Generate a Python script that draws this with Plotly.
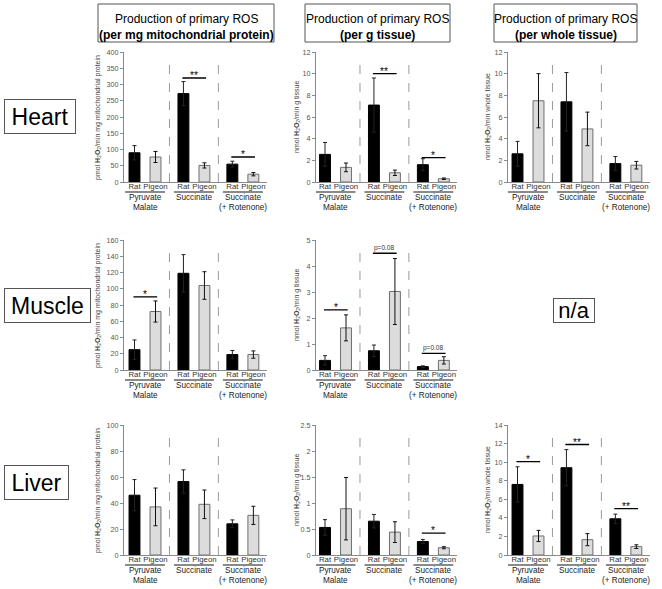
import plotly.graph_objects as go

# ---------------- data ----------------
groups = ["Pyruvate<br>Malate", "Succinate", "Succinate<br>(+ Rotenone)"]
species = ["Rat", "Pigeon"]

# Heart
heart_protein_rat = [90, 272, 55]
heart_protein_rat_err = [22, 37, 9]
heart_protein_pigeon = [77, 51, 24]
heart_protein_pigeon_err = [17, 8, 5]

heart_gtissue_rat = [2.55, 7.1, 1.6]
heart_gtissue_rat_err = [1.1, 2.5, 0.55]
heart_gtissue_pigeon = [1.35, 0.85, 0.3]
heart_gtissue_pigeon_err = [0.4, 0.25, 0.07]

heart_whole_rat = [2.6, 7.4, 1.7]
heart_whole_rat_err = [1.15, 2.7, 0.65]
heart_whole_pigeon = [7.5, 4.9, 1.55]
heart_whole_pigeon_err = [2.5, 1.55, 0.35]

# Muscle
muscle_protein_rat = [25, 119, 19]
muscle_protein_rat_err = [12, 23, 5]
muscle_protein_pigeon = [72, 104, 19]
muscle_protein_pigeon_err = [13, 17, 4.5]

muscle_gtissue_rat = [0.37, 0.74, 0.13]
muscle_gtissue_rat_err = [0.18, 0.22, 0.03]
muscle_gtissue_pigeon = [1.62, 3.02, 0.37]
muscle_gtissue_pigeon_err = [0.5, 1.27, 0.14]

# Liver
liver_protein_rat = [46, 56.5, 24]
liver_protein_rat_err = [12, 9, 3]
liver_protein_pigeon = [37, 39, 30.5]
liver_protein_pigeon_err = [14.5, 11, 7]

liver_gtissue_rat = [0.53, 0.65, 0.26]
liver_gtissue_rat_err = [0.15, 0.13, 0.04]
liver_gtissue_pigeon = [0.89, 0.44, 0.14]
liver_gtissue_pigeon_err = [0.6, 0.2, 0.02]

liver_whole_rat = [7.6, 9.4, 3.9]
liver_whole_rat_err = [1.9, 1.95, 0.5]
liver_whole_pigeon = [2.05, 1.65, 0.9]
liver_whole_pigeon_err = [0.6, 0.65, 0.2]

# significance marks: (group index, level, label)
heart_protein_sig = [(1, 320, "**"), (2, 77, "*")]
heart_gtissue_sig = [(1, 10.0, "**"), (2, 2.25, "*")]
heart_whole_sig = []
muscle_protein_sig = [(0, 90, "*")]
muscle_gtissue_sig = [(0, 2.31, "*"), (1, 4.49, "p=0.08"), (2, 0.64, "p=0.08")]
liver_protein_sig = []
liver_gtissue_sig = [(2, 0.42, "*")]
liver_whole_sig = [(0, 10.05, "*"), (1, 11.9, "**"), (2, 5.0, "**")]

header_line1 = ["Production of primary ROS"] * 3
header_line2 = ["(per mg mitochondrial protein)", "(per g tissue)", "(per whole tissue)"]
row_labels = ["Heart", "Muscle", "Liver"]

H2O2 = "<b>H</b><sub>2</sub><b>O</b><sub>2</sub>"
ytitles = ["pmol " + H2O2 + "/min mg mitochondrial protein",
           "nmol " + H2O2 + "/min g tissue",
           "nmol " + H2O2 + "/min whole tissue"]

panels = [
    dict(row=0, col=0, rat=heart_protein_rat, rat_err=heart_protein_rat_err,
         pig=heart_protein_pigeon, pig_err=heart_protein_pigeon_err, ymax=400, dtick=50, sig=heart_protein_sig),
    dict(row=0, col=1, rat=heart_gtissue_rat, rat_err=heart_gtissue_rat_err,
         pig=heart_gtissue_pigeon, pig_err=heart_gtissue_pigeon_err, ymax=12, dtick=2, sig=heart_gtissue_sig),
    dict(row=0, col=2, rat=heart_whole_rat, rat_err=heart_whole_rat_err,
         pig=heart_whole_pigeon, pig_err=heart_whole_pigeon_err, ymax=12, dtick=2, sig=heart_whole_sig),
    dict(row=1, col=0, rat=muscle_protein_rat, rat_err=muscle_protein_rat_err,
         pig=muscle_protein_pigeon, pig_err=muscle_protein_pigeon_err, ymax=160, dtick=20, sig=muscle_protein_sig),
    dict(row=1, col=1, rat=muscle_gtissue_rat, rat_err=muscle_gtissue_rat_err,
         pig=muscle_gtissue_pigeon, pig_err=muscle_gtissue_pigeon_err, ymax=5, dtick=1, sig=muscle_gtissue_sig),
    dict(row=2, col=0, rat=liver_protein_rat, rat_err=liver_protein_rat_err,
         pig=liver_protein_pigeon, pig_err=liver_protein_pigeon_err, ymax=100, dtick=20, sig=liver_protein_sig),
    dict(row=2, col=1, rat=liver_gtissue_rat, rat_err=liver_gtissue_rat_err,
         pig=liver_gtissue_pigeon, pig_err=liver_gtissue_pigeon_err, ymax=2.5, dtick=0.5, sig=liver_gtissue_sig),
    dict(row=2, col=2, rat=liver_whole_rat, rat_err=liver_whole_rat_err,
         pig=liver_whole_pigeon, pig_err=liver_whole_pigeon_err, ymax=14, dtick=2, sig=liver_whole_sig),
]

# ---------------- layout geometry (pixels) ----------------
W, H = 662, 589
FONT = "Liberation Sans, Arial, sans-serif"
GSTEP = 2.33          # group spacing in bar units
UNIT = 21.0           # px per bar unit
col_axis_left = [124, 316, 508]      # px of y axis
col_first_offset = [10.5, 9.0, 9.5]  # px from axis to first bar centre
col_xmax = 6.3
row_top = [52, 240, 425]
row_h = 130
col_ytitle_x = [98, 297, 488]

def px2x(px):
    return px / W

def px2y(py):
    return 1 - py / H

fig = go.Figure()
layout = dict(
    template="none",
    width=W, height=H, margin=dict(l=0, r=0, t=0, b=0, pad=0),
    paper_bgcolor="white", plot_bgcolor="white",
    showlegend=False, barmode="overlay",
    font=dict(family=FONT, color="#333333"),
)
shapes = []
annotations = []

rat_x = [g * GSTEP for g in range(3)]
pig_x = [g * GSTEP + 1 for g in range(3)]
tickvals = []
ticktext = []
for g in range(3):
    tickvals += [rat_x[g], pig_x[g]]
    ticktext += species

for i, p in enumerate(panels):
    n = i + 1
    sfx = "" if n == 1 else str(n)
    xa, ya = "x" + sfx, "y" + sfx
    c, r = p["col"], p["row"]
    xmin = -col_first_offset[c] / UNIT
    x0px = col_axis_left[c]
    x1px = x0px + (col_xmax - xmin) * UNIT
    top, bot = row_top[r], row_top[r] + row_h

    fig.add_trace(go.Bar(
        x=rat_x, y=p["rat"], width=0.52, xaxis=xa, yaxis=ya,
        marker=dict(color="black", line=dict(color="black", width=1)),
        error_y=dict(type="data", array=p["rat_err"], color="#222222", thickness=1, width=2),
        name="Rat"))
    fig.add_trace(go.Bar(
        x=pig_x, y=p["pig"], width=0.52, xaxis=xa, yaxis=ya,
        marker=dict(color="#dcdcdc", line=dict(color="#6e6e6e", width=1)),
        error_y=dict(type="data", array=p["pig_err"], color="#111111", thickness=1, width=2),
        name="Pigeon"))

    layout["xaxis" + sfx] = dict(
        domain=[px2x(x0px), px2x(x1px)], range=[xmin, col_xmax], anchor=ya,
        showline=True, linecolor="#8a8a8a", linewidth=1, ticks="", ticklen=0,
        ticklabelstandoff=-3,
        tickvals=tickvals, ticktext=ticktext, showgrid=False, zeroline=False,
        tickfont=dict(size=7.8, color="#333333"), fixedrange=True)
    layout["yaxis" + sfx] = dict(
        domain=[px2y(bot), px2y(top)], range=[0, p["ymax"]], dtick=p["dtick"], anchor=xa,
        showline=True, linecolor="#8a8a8a", linewidth=1, ticks="outside", ticklen=3,
        tickcolor="#8a8a8a", showgrid=False, zeroline=False,
        tickfont=dict(size=7.2, color="#555555"), fixedrange=True)

    dom = ya + " domain"
    # dashed separators
    for g in range(2):
        xs = (pig_x[g] + rat_x[g + 1]) / 2
        shapes.append(dict(type="line", xref=xa, yref=dom, x0=xs, x1=xs, y0=0, y1=0.9,
                           line=dict(color="#9a9a9a", width=1, dash="dash")))
    # group underline + label lines
    for g in range(3):
        gc = (rat_x[g] + pig_x[g]) / 2
        shapes.append(dict(type="line", xref=xa, yref=dom, x0=gc - 0.95, x1=gc + 0.95,
                           y0=-10 / row_h, y1=-10 / row_h, line=dict(color="#8a8a8a", width=2.2)))
        for k, line_txt in enumerate(groups[g].split("<br>")):
            annotations.append(dict(text=line_txt, xref=xa, yref=dom, x=gc, y=-(15.5 + 9.5 * k) / row_h,
                                    yanchor="middle", xanchor="center", showarrow=False,
                                    font=dict(size=8.2, color="#222222")))
    # significance
    for g, lvl, lab in p["sig"]:
        shapes.append(dict(type="line", xref=xa, yref=ya, x0=rat_x[g] - 0.05, x1=pig_x[g] + 0.08,
                           y0=lvl, y1=lvl, line=dict(color="#000000", width=1.3)))
        if lab.startswith("p"):
            annotations.append(dict(text=lab, xref=xa, yref=ya, x=(rat_x[g] + pig_x[g]) / 2, y=lvl,
                                    yanchor="bottom", showarrow=False, yshift=-1,
                                    font=dict(size=6.5, color="#333333")))
        else:
            annotations.append(dict(text=lab, xref=xa, yref=ya, x=(rat_x[g] + pig_x[g]) / 2, y=lvl,
                                    yanchor="bottom", showarrow=False, yshift=-5,
                                    font=dict(size=10, color="#000000")))
    # y title
    annotations.append(dict(text=ytitles[c], xref="paper", yref=dom, x=px2x(col_ytitle_x[c]), y=0.5,
                            textangle=-90, showarrow=False, xanchor="center", yanchor="middle",
                            font=dict(size=7, color="#444444")))

# column headers: box + two text lines
hdr_boxes = [(98, 274), (305, 450), (494, 637)]
for (a, b), t1, t2 in zip(hdr_boxes, header_line1, header_line2):
    shapes.append(dict(type="rect", xref="paper", yref="paper", x0=px2x(a), x1=px2x(b),
                       y0=px2y(42), y1=px2y(4), line=dict(color="#555555", width=1)))
    annotations.append(dict(text=t1, xref="paper", yref="paper", x=px2x((a + b) / 2), y=px2y(18.5),
                            xanchor="center", yanchor="middle", showarrow=False,
                            font=dict(size=12, color="#000000")))
    annotations.append(dict(text="<b>" + t2 + "</b>", xref="paper", yref="paper", x=px2x((a + b) / 2),
                            y=px2y(34.5), xanchor="center", yanchor="middle", showarrow=False,
                            font=dict(size=12, color="#000000")))
# row labels
row_boxes = [(4, 76, 99, 134), (4, 91, 288, 323), (4, 69, 465, 500)]
for (a, b, t0, t1), t in zip(row_boxes, row_labels):
    annotations.append(dict(text=t, xref="paper", yref="paper", x=px2x((a + b) / 2), y=px2y((t0 + t1) / 2),
                            xanchor="center", yanchor="middle", showarrow=False,
                            width=b - a - 2, height=t1 - t0 - 2, bordercolor="#555555", borderwidth=1, borderpad=0,
                            font=dict(size=23, color="#000000")))
# n/a
annotations.append(dict(text="n/a", xref="paper", yref="paper", x=px2x(574), y=px2y(310.5),
                        xanchor="center", yanchor="middle", showarrow=False,
                        width=40, height=23, bordercolor="#555555", borderwidth=1, borderpad=0,
                        font=dict(size=22, color="#000000")))

layout["shapes"] = shapes
layout["annotations"] = annotations
fig.update_layout(**layout)
fig.write_html("out.html", config={"displayModeBar": False},
               post_script="document.body.style.margin='0';document.body.style.overflow='hidden';")
